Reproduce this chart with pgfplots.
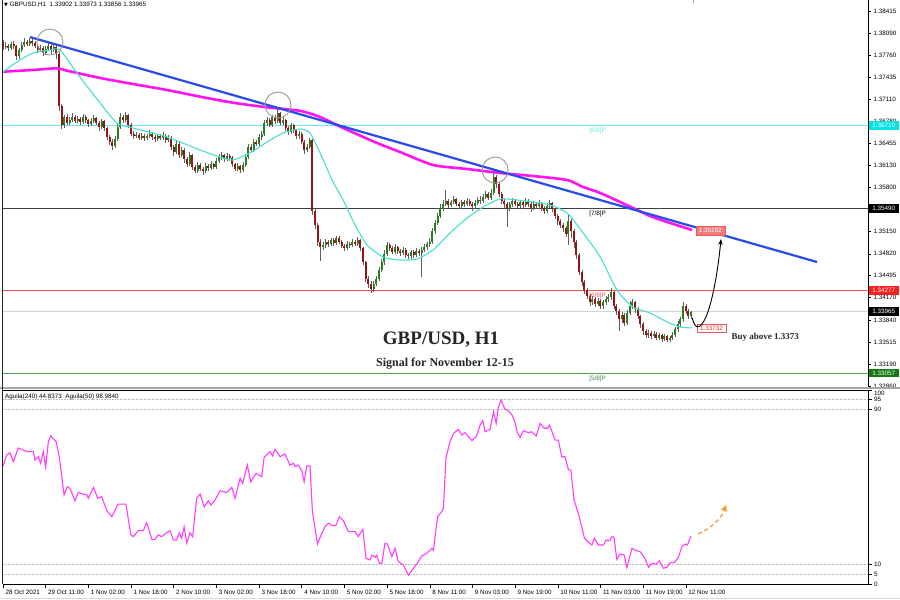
\documentclass[border=0pt]{standalone}
\usepackage{pgfplots}
\pgfplotsset{compat=1.18}
\usepgfplotslibrary{groupplots}
\usepackage{pgfplotstable}
\usepackage{fontspec}
\setmainfont{Liberation Sans}
\newfontfamily\serifb{Liberation Serif}
\newfontfamily\dejavu{DejaVu Sans}
\usetikzlibrary{arrows.meta}
\pgfdeclarelayer{bg}
\pgfsetlayers{bg,main}
\definecolor{upc}{RGB}{40,125,30}
\definecolor{dnc}{RGB}{150,20,20}
\definecolor{wick}{RGB}{95,95,95}
\definecolor{magma}{RGB}{255,20,240}
\definecolor{turq}{RGB}{70,225,205}
\definecolor{tline}{RGB}{40,75,235}
\definecolor{cyl}{RGB}{110,232,232}
\definecolor{cybox}{RGB}{0,228,228}
\definecolor{redl}{RGB}{232,85,85}
\definecolor{redbox}{RGB}{250,30,30}
\definecolor{greenl}{RGB}{80,170,80}
\definecolor{greenbox}{RGB}{20,120,20}
\definecolor{curl}{RGB}{205,212,218}
\definecolor{osc}{RGB}{255,60,255}
\definecolor{orng}{RGB}{245,160,50}
\definecolor{salm}{RGB}{240,125,125}
\newcommand\tk{\fontsize{6.3}{7}\selectfont}
\pgfplotsset{/pgf/number format/assume math mode=true}

\pgfplotstableread{
i o h l c
0 1.3795 1.3799 1.3784 1.3788
1 1.3788 1.3795 1.3785 1.3790
2 1.3790 1.3793 1.3782 1.3786
3 1.3786 1.3796 1.3783 1.3792
4 1.3792 1.3797 1.3785 1.3789
5 1.3789 1.3791 1.3769 1.3774
6 1.3774 1.3787 1.3771 1.3784
7 1.3784 1.3795 1.3781 1.3791
8 1.3791 1.3801 1.3788 1.3796
9 1.3796 1.3799 1.3789 1.3793
10 1.3793 1.3802 1.3790 1.3797
11 1.3797 1.3800 1.3790 1.3794
12 1.3794 1.3797 1.3786 1.3790
13 1.3790 1.3792 1.3779 1.3783
14 1.3783 1.3791 1.3780 1.3787
15 1.3787 1.3789 1.3774 1.3779
16 1.3779 1.3790 1.3776 1.3785
17 1.3785 1.3796 1.3782 1.3790
18 1.3790 1.3793 1.3778 1.3783
19 1.3783 1.3794 1.3780 1.3788
20 1.3788 1.3791 1.3770 1.3778
21 1.3778 1.3780 1.3694 1.3700
22 1.3700 1.3704 1.3666 1.3672
23 1.3672 1.3688 1.3668 1.3684
24 1.3684 1.3689 1.3672 1.3676
25 1.3676 1.3685 1.3673 1.3680
26 1.3680 1.3690 1.3677 1.3685
27 1.3685 1.3688 1.3675 1.3679
28 1.3679 1.3686 1.3676 1.3682
29 1.3682 1.3684 1.3673 1.3677
30 1.3677 1.3689 1.3674 1.3684
31 1.3684 1.3687 1.3676 1.3680
32 1.3680 1.3682 1.3670 1.3674
33 1.3674 1.3683 1.3671 1.3679
34 1.3679 1.3688 1.3676 1.3683
35 1.3683 1.3685 1.3672 1.3676
36 1.3676 1.3678 1.3663 1.3670
37 1.3670 1.3682 1.3667 1.3678
38 1.3678 1.3680 1.3664 1.3668
39 1.3668 1.3670 1.3650 1.3655
40 1.3655 1.3658 1.3643 1.3648
41 1.3648 1.3652 1.3636 1.3642
42 1.3642 1.3656 1.3639 1.3652
43 1.3652 1.3674 1.3649 1.3670
44 1.3670 1.3690 1.3667 1.3684
45 1.3684 1.3688 1.3676 1.3680
46 1.3680 1.3692 1.3677 1.3687
47 1.3687 1.3689 1.3668 1.3672
48 1.3672 1.3675 1.3656 1.3660
49 1.3660 1.3663 1.3652 1.3656
50 1.3656 1.3662 1.3653 1.3658
51 1.3658 1.3661 1.3650 1.3654
52 1.3654 1.3661 1.3651 1.3657
53 1.3657 1.3660 1.3649 1.3653
54 1.3653 1.3660 1.3650 1.3656
55 1.3656 1.3665 1.3653 1.3660
56 1.3660 1.3662 1.3651 1.3655
57 1.3655 1.3658 1.3648 1.3652
58 1.3652 1.3660 1.3649 1.3656
59 1.3656 1.3659 1.3650 1.3653
60 1.3653 1.3662 1.3650 1.3657
61 1.3657 1.3659 1.3646 1.3650
62 1.3650 1.3658 1.3647 1.3654
63 1.3654 1.3656 1.3636 1.3640
64 1.3640 1.3643 1.3626 1.3632
65 1.3632 1.3650 1.3629 1.3645
66 1.3645 1.3647 1.3624 1.3628
67 1.3628 1.3640 1.3625 1.3636
68 1.3636 1.3638 1.3617 1.3622
69 1.3622 1.3625 1.3610 1.3615
70 1.3615 1.3632 1.3612 1.3628
71 1.3628 1.3630 1.3606 1.3610
72 1.3610 1.3613 1.3601 1.3605
73 1.3605 1.3618 1.3602 1.3614
74 1.3614 1.3616 1.3604 1.3608
75 1.3608 1.3611 1.3599 1.3604
76 1.3604 1.3616 1.3601 1.3612
77 1.3612 1.3615 1.3605 1.3609
78 1.3609 1.3619 1.3606 1.3615
79 1.3615 1.3617 1.3607 1.3610
80 1.3610 1.3624 1.3607 1.3620
81 1.3620 1.3629 1.3617 1.3625
82 1.3625 1.3632 1.3621 1.3628
83 1.3628 1.3630 1.3618 1.3622
84 1.3622 1.3631 1.3619 1.3627
85 1.3627 1.3630 1.3620 1.3624
86 1.3624 1.3626 1.3611 1.3615
87 1.3615 1.3617 1.3604 1.3608
88 1.3608 1.3616 1.3605 1.3612
89 1.3612 1.3614 1.3602 1.3606
90 1.3606 1.3618 1.3603 1.3614
91 1.3614 1.3629 1.3611 1.3625
92 1.3625 1.3644 1.3622 1.3640
93 1.3640 1.3645 1.3632 1.3636
94 1.3636 1.3652 1.3633 1.3648
95 1.3648 1.3651 1.3641 1.3645
96 1.3645 1.3659 1.3642 1.3655
97 1.3655 1.3664 1.3651 1.3660
98 1.3660 1.3680 1.3657 1.3675
99 1.3675 1.3684 1.3671 1.3680
100 1.3680 1.3683 1.3669 1.3673
101 1.3673 1.3688 1.3670 1.3684
102 1.3684 1.3687 1.3674 1.3678
103 1.3678 1.3697 1.3675 1.3690
104 1.3690 1.3692 1.3672 1.3676
105 1.3676 1.3684 1.3672 1.3680
106 1.3680 1.3682 1.3664 1.3668
107 1.3668 1.3671 1.3658 1.3662
108 1.3662 1.3676 1.3659 1.3672
109 1.3672 1.3674 1.3661 1.3665
110 1.3665 1.3667 1.3652 1.3656
111 1.3656 1.3664 1.3652 1.3660
112 1.3660 1.3662 1.3644 1.3648
113 1.3648 1.3650 1.3630 1.3635
114 1.3635 1.3645 1.3632 1.3640
115 1.3640 1.3654 1.3637 1.3650
116 1.3650 1.3652 1.3540 1.3545
117 1.3545 1.3549 1.3518 1.3525
118 1.3525 1.3528 1.3494 1.3500
119 1.3500 1.3504 1.3472 1.3492
120 1.3492 1.3499 1.3488 1.3495
121 1.3495 1.3504 1.3491 1.3500
122 1.3500 1.3503 1.3492 1.3496
123 1.3496 1.3506 1.3493 1.3502
124 1.3502 1.3505 1.3494 1.3498
125 1.3498 1.3509 1.3495 1.3505
126 1.3505 1.3508 1.3496 1.3500
127 1.3500 1.3502 1.3490 1.3494
128 1.3494 1.3497 1.3486 1.3490
129 1.3490 1.3501 1.3487 1.3497
130 1.3497 1.3500 1.3491 1.3495
131 1.3495 1.3504 1.3492 1.3500
132 1.3500 1.3503 1.3493 1.3497
133 1.3497 1.3507 1.3494 1.3502
134 1.3502 1.3504 1.3486 1.3490
135 1.3490 1.3492 1.3465 1.3470
136 1.3470 1.3472 1.3440 1.3445
137 1.3445 1.3449 1.3432 1.3438
138 1.3438 1.3441 1.3424 1.3430
139 1.3430 1.3442 1.3426 1.3438
140 1.3438 1.3449 1.3434 1.3445
141 1.3445 1.3462 1.3442 1.3458
142 1.3458 1.3475 1.3455 1.3470
143 1.3470 1.3487 1.3466 1.3482
144 1.3482 1.3500 1.3479 1.3495
145 1.3495 1.3498 1.3486 1.3490
146 1.3490 1.3493 1.3481 1.3485
147 1.3485 1.3496 1.3482 1.3492
148 1.3492 1.3494 1.3482 1.3486
149 1.3486 1.3489 1.3479 1.3483
150 1.3483 1.3492 1.3480 1.3488
151 1.3488 1.3490 1.3476 1.3480
152 1.3480 1.3483 1.3474 1.3478
153 1.3478 1.3488 1.3475 1.3484
154 1.3484 1.3487 1.3476 1.3480
155 1.3480 1.3490 1.3477 1.3486
156 1.3486 1.3489 1.3479 1.3483
157 1.3483 1.3492 1.3448 1.3488
158 1.3488 1.3496 1.3484 1.3492
159 1.3492 1.3500 1.3488 1.3496
160 1.3496 1.3505 1.3492 1.3500
161 1.3500 1.3520 1.3497 1.3515
162 1.3515 1.3532 1.3511 1.3528
163 1.3528 1.3543 1.3524 1.3538
164 1.3538 1.3556 1.3535 1.3550
165 1.3550 1.3561 1.3546 1.3556
166 1.3556 1.3576 1.3552 1.3560
167 1.3560 1.3563 1.3550 1.3554
168 1.3554 1.3562 1.3551 1.3558
169 1.3558 1.3567 1.3555 1.3563
170 1.3563 1.3565 1.3552 1.3556
171 1.3556 1.3559 1.3548 1.3552
172 1.3552 1.3562 1.3549 1.3558
173 1.3558 1.3561 1.3551 1.3555
174 1.3555 1.3564 1.3552 1.3560
175 1.3560 1.3563 1.3552 1.3556
176 1.3556 1.3559 1.3545 1.3552
177 1.3552 1.3561 1.3549 1.3557
178 1.3557 1.3566 1.3554 1.3562
179 1.3562 1.3567 1.3556 1.3560
180 1.3560 1.3571 1.3557 1.3566
181 1.3566 1.3575 1.3563 1.3570
182 1.3570 1.3573 1.3561 1.3565
183 1.3565 1.3578 1.3562 1.3572
184 1.3572 1.3606 1.3569 1.3595
185 1.3595 1.3599 1.3580 1.3585
186 1.3585 1.3588 1.3566 1.3570
187 1.3570 1.3573 1.3555 1.3560
188 1.3560 1.3563 1.3550 1.3555
189 1.3555 1.3558 1.3522 1.3548
190 1.3548 1.3559 1.3545 1.3555
191 1.3555 1.3565 1.3551 1.3560
192 1.3560 1.3563 1.3552 1.3556
193 1.3556 1.3559 1.3548 1.3552
194 1.3552 1.3562 1.3549 1.3558
195 1.3558 1.3561 1.3550 1.3554
196 1.3554 1.3564 1.3551 1.3560
197 1.3560 1.3563 1.3551 1.3555
198 1.3555 1.3558 1.3544 1.3550
199 1.3550 1.3560 1.3547 1.3556
200 1.3556 1.3559 1.3548 1.3552
201 1.3552 1.3561 1.3549 1.3557
202 1.3557 1.3559 1.3546 1.3550
203 1.3550 1.3553 1.3541 1.3546
204 1.3546 1.3557 1.3543 1.3553
205 1.3553 1.3562 1.3550 1.3557
206 1.3557 1.3559 1.3544 1.3548
207 1.3548 1.3550 1.3533 1.3538
208 1.3538 1.3541 1.3525 1.3530
209 1.3530 1.3533 1.3520 1.3525
210 1.3525 1.3528 1.3514 1.3520
211 1.3520 1.3523 1.3507 1.3512
212 1.3512 1.3540 1.3495 1.3530
213 1.3530 1.3533 1.3505 1.3515
214 1.3515 1.3518 1.3490 1.3500
215 1.3500 1.3503 1.3475 1.3480
216 1.3480 1.3483 1.3450 1.3455
217 1.3455 1.3458 1.3434 1.3440
218 1.3440 1.3443 1.3422 1.3428
219 1.3428 1.3431 1.3415 1.3420
220 1.3420 1.3423 1.3405 1.3410
221 1.3410 1.3419 1.3406 1.3415
222 1.3415 1.3418 1.3403 1.3408
223 1.3408 1.3416 1.3404 1.3412
224 1.3412 1.3415 1.3400 1.3405
225 1.3405 1.3414 1.3401 1.3410
226 1.3410 1.3419 1.3406 1.3415
227 1.3415 1.3422 1.3410 1.3418
228 1.3418 1.3431 1.3414 1.3425
229 1.3425 1.3427 1.3400 1.3405
230 1.3405 1.3408 1.3392 1.3398
231 1.3398 1.3400 1.3368 1.3385
232 1.3385 1.3396 1.3380 1.3392
233 1.3392 1.3394 1.3375 1.3380
234 1.3380 1.3399 1.3376 1.3395
235 1.3395 1.3412 1.3391 1.3405
236 1.3405 1.3415 1.3400 1.3410
237 1.3410 1.3412 1.3395 1.3400
238 1.3400 1.3403 1.3385 1.3390
239 1.3390 1.3392 1.3372 1.3378
240 1.3378 1.3381 1.3362 1.3368
241 1.3368 1.3371 1.3357 1.3362
242 1.3362 1.3369 1.3358 1.3365
243 1.3365 1.3368 1.3356 1.3360
244 1.3360 1.3367 1.3357 1.3364
245 1.3364 1.3366 1.3354 1.3358
246 1.3358 1.3365 1.3355 1.3362
247 1.3362 1.3364 1.3352 1.3356
248 1.3356 1.3363 1.3353 1.3360
249 1.3360 1.3362 1.3351 1.3355
250 1.3355 1.3361 1.3352 1.3358
251 1.3358 1.3366 1.3355 1.3362
252 1.3362 1.3374 1.3359 1.3370
253 1.3370 1.3382 1.3366 1.3378
254 1.3378 1.3389 1.3374 1.3385
255 1.3385 1.3411 1.3381 1.3405
256 1.3405 1.3408 1.3393 1.3398
257 1.3398 1.3401 1.3385 1.3390
258 1.33902 1.33973 1.33856 1.33965
}\candles

\pgfplotstableread{
i v
0 60.8
1.4 66.5
2.6 67.7
3.9 63.0
5.7 70.1
7.6 69.1
8.9 68.2
11.4 68.2
12 63.9
13.2 65.6
14.1 62.2
15.1 68.2
16 60.2
17 73.4
17.9 76.3
19.9 73.4
21.1 65.6
22.9 45.9
24.1 50.2
25.1 49.3
27 42.9
28.2 47.1
31.4 45.9
32 44.2
33.9 49.8
35.5 44.2
37 45.0
38.9 37.8
40.8 34.7
43.2 41.2
46.1 41.2
47.9 25.3
48.9 24.4
50.7 27.5
52.6 27.5
53.9 31.6
55.8 23.0
57 23.0
58.2 25.3
59.5 24.4
60.7 25.8
62.6 27.5
63.9 22.7
65.1 22.7
66.1 26.4
67 23.6
67.9 29.5
68.9 21.0
70.1 26.4
71.1 24.4
72.6 44.2
73.9 46.4
75.4 39.8
77 42.9
78 40.7
79.5 43.3
81.4 48.1
83.9 47.1
85.8 49.8
87 44.2
88.9 54.5
89.9 51.9
91.6 61.3
92.9 52.7
94.9 57.1
97 55.3
97.9 65.3
100.1 68.2
101.1 66.0
102 69.4
103.9 65.6
105.7 67.0
107.6 61.3
108.9 62.2
109.5 60.5
110.7 61.3
112 58.4
112.9 52.7
113.9 60.8
115.1 60.8
116 37.3
117.9 20.6
119.1 24.7
120.7 29.5
122 31.3
123.9 29.9
124.9 30.4
126.1 34.7
127.6 32.6
129.5 27.0
132 27.0
133.2 24.4
134.9 28.2
136.1 13.2
137.6 12.4
138.3 14.9
139.5 13.8
140.1 14.9
141.1 10.7
142 10.7
143.2 21.0
144.1 20.6
145.8 14.1
147 18.4
148.2 11.5
150.1 9.8
152 4.6
153.9 8.1
155.7 11.5
157 14.4
158.9 15.8
160.8 18.4
161.4 17.5
162.9 34.7
164.5 37.3
165.1 39.0
166.1 65.3
167.6 73.4
168.9 77.7
170.7 79.7
172 76.8
173.2 78.0
174.5 75.9
175.8 73.9
177.4 75.9
178.9 82.0
179.9 84.2
180.7 78.5
182.6 79.7
183.9 88.8
184.9 82.8
185.7 91.1
186.7 94.8
188.2 90.1
189.5 89.3
190.8 87.1
191.6 84.9
192.9 77.7
193.9 75.6
195.1 79.0
197 78.0
198.3 78.5
199.9 76.3
201.4 82.8
202.9 80.3
204.1 80.3
204.9 82.0
207 74.2
208.2 74.2
209.5 65.6
210.7 65.6
212 58.8
212.9 58.8
214.1 43.3
215.7 36.4
218 23.6
219.9 21.0
220.8 20.1
221.7 23.6
223.2 20.1
225.1 20.1
226.1 22.7
227.4 22.3
228.3 24.4
229.1 24.1
230.1 12.7
231.4 15.5
232.9 14.9
233.9 8.4
235.8 18.4
237 17.5
238.9 16.6
240.7 13.2
242 8.6
243.3 10.7
244.9 10.2
246.1 11.9
247.6 8.1
248.9 8.6
250.1 11.0
251.6 11.0
253.2 13.6
254.5 19.2
255.7 20.6
256.6 20.1
257.9 24.7
}\osci

\begin{document}
\begin{tikzpicture}[x=1pt,y=1pt]
\begin{groupplot}[
  group style={group size=1 by 2, vertical sep=3pt},
  scale only axis, width=865pt,
  xmin=0, xmax=324.3,
  axis line style={-, line width=0.8pt},
  tick align=outside,
  tick style={black, line width=0.5pt},
  scaled y ticks=false,
  clip=false,
]
% ---------------- upper price panel ----------------
\nextgroupplot[
  height=387pt,
  ymin=1.328484, ymax=1.38576,
  axis x line=none, axis y line*=right,
  ytick={1.38415,1.38090,1.37760,1.37435,1.37110,1.36780,1.36455,1.36130,1.35800,1.35150,1.34820,1.34495,1.34170,1.33840,1.33515,1.33190,1.32860},
  yticklabels={1.38415,1.38090,1.37760,1.37435,1.37110,1.36780,1.36455,1.36130,1.35800,1.35150,1.34820,1.34495,1.34170,1.33840,1.33515,1.33190,1.32860},
  major tick length=3pt,
  yticklabel style={font=\tk, xshift=-1pt},
]
\coordinate (UL) at (rel axis cs:0,0);
% horizontal levels
\addplot[cyl, line width=0.8pt] coordinates {(0,1.36719) (324.3,1.36719)};
\addplot[black!75, line width=0.7pt] coordinates {(0,1.35490) (324.3,1.35490)};
\addplot[redl, line width=0.8pt] coordinates {(0,1.34277) (324.3,1.34277)};
\addplot[curl, line width=1.8pt] coordinates {(0,1.33965) (324.3,1.33965)};
\addplot[greenl, line width=0.8pt] coordinates {(0,1.33057) (324.3,1.33057)};

% candles: wicks
\addplot[draw=none, no markers, forget plot,
  error bars/.cd, y dir=plus, y explicit, error mark=none,
  error bar style={draw=wick, line width=0.6pt}]
  table[x=i, y=l, y error plus expr=\thisrow{h}-\thisrow{l}] {\candles};
% up bodies
\addplot[draw=none, no markers, forget plot,
  restrict expr to domain={(\thisrow{c}-\thisrow{o})*10000}{0:1000},
  error bars/.cd, y dir=plus, y explicit, error mark=none,
  error bar style={draw=upc, line width=2pt}]
  table[x=i, y=o, y error plus expr=\thisrow{c}-\thisrow{o}] {\candles};
% down bodies
\addplot[draw=none, no markers, forget plot,
  restrict expr to domain={(\thisrow{o}-\thisrow{c})*10000}{0.001:1000},
  error bars/.cd, y dir=plus, y explicit, error mark=none,
  error bar style={draw=dnc, line width=2pt}]
  table[x=i, y=c, y error plus expr=\thisrow{o}-\thisrow{c}] {\candles};

% moving averages
\addplot[magma, line width=2.6pt, smooth, tension=0.4] coordinates {
(0,1.37515) (11.2,1.37540) (20.2,1.37565) (24,1.37530) (36.4,1.37422)
(48.7,1.37333) (61.5,1.37244) (73.9,1.37145) (86.2,1.37056) (99,1.36988)
(111.4,1.36935) (118.9,1.36844) (127.5,1.36682) (140.2,1.36460) (148.9,1.36326)
(161.2,1.36134) (174,1.36075) (186.4,1.36016) (198.7,1.35971) (211.5,1.35912)
(217.5,1.35808) (223.9,1.35720) (236.2,1.35498) (242.6,1.35379) (249,1.35290)
(258.4,1.35172)};
\addplot[turq, line width=1.1pt, smooth, tension=0.4] coordinates {
(0,1.37510) (5.2,1.37658) (11.2,1.37792) (17.6,1.37836) (21.4,1.37836)
(27.7,1.37496) (36.4,1.37052) (42.7,1.36756) (48.7,1.36682) (61.5,1.36548)
(73.9,1.36356) (81.4,1.36252) (86.2,1.36208) (92.6,1.36312) (99,1.36474)
(105,1.36608) (111.4,1.36667) (115.1,1.36608) (118.9,1.36312) (123.4,1.35912)
(127.5,1.35616) (132,1.35246) (136.5,1.34950) (142.5,1.34772) (148.9,1.34728)
(155.2,1.34743) (161.2,1.34876) (167.6,1.35128) (174,1.35350) (180,1.35512)
(186.4,1.35631) (192.7,1.35616) (198.7,1.35586) (205.1,1.35542) (211.5,1.35424)
(217.5,1.35128) (223.9,1.34772) (230.2,1.34284) (236.2,1.34032) (242.6,1.33944)
(249,1.33810) (253.9,1.33736) (258.4,1.33722)};
% trend line
\addplot[tline, line width=2.2pt] coordinates {(10.1,1.38028) (305.2,1.34698)};

% circles
\draw[gray!80, line width=0.9pt] (axis cs:17.6,1.37954) circle[radius=13pt];
\draw[gray!80, line width=0.9pt] (axis cs:103.1,1.37022) circle[radius=13pt];
\draw[gray!80, line width=0.9pt] (axis cs:184.5,1.36060) circle[radius=13pt];

% murrey labels
\node[anchor=north west, inner sep=1pt, font=\tk, text=cyl] at (axis cs:219.4,1.36700) {[8/8]P};
\node[anchor=north west, inner sep=1pt, font=\tk, text=black] at (axis cs:219.4,1.35470) {[7/8]P};
\node[anchor=north west, inner sep=1pt, font=\tk, text=redl] at (axis cs:219.4,1.34257) {[6/8]P};
\node[anchor=north west, inner sep=1pt, font=\tk, text=greenl!80!black] at (axis cs:219.4,1.33037) {[5/8]P};

% right price boxes
\node[anchor=west, xshift=0.5pt, fill=cybox, text=white, font=\tk, inner sep=1pt, minimum width=30pt, minimum height=8.5pt] at (axis cs:324.3,1.36719) {1.36719};
\node[anchor=west, xshift=0.5pt, fill=black, text=white, font=\tk, inner sep=1pt, minimum width=30pt, minimum height=8.5pt] at (axis cs:324.3,1.35490) {1.35490};
\node[anchor=west, xshift=0.5pt, fill=redbox, text=white, font=\tk, inner sep=1pt, minimum width=30pt, minimum height=8.5pt] at (axis cs:324.3,1.34277) {1.34277};
\node[anchor=west, xshift=0.5pt, fill=black, text=white, font=\tk, inner sep=1pt, minimum width=30pt, minimum height=8.5pt] at (axis cs:324.3,1.33965) {1.33965};
\node[anchor=west, xshift=0.5pt, fill=greenbox, text=white, font=\tk, inner sep=1pt, minimum width=30pt, minimum height=8.5pt] at (axis cs:324.3,1.33057) {1.33057};

% MA end labels
\node[fill=salm, draw=redl, text=white, font=\tk, inner sep=1pt, minimum width=29pt, minimum height=8.5pt] at (axis cs:265.2,1.35160) {1.35182};
\node[fill=white, draw=redl, text=redbox, font=\tk, inner sep=1pt, minimum width=29pt, minimum height=8.5pt] at (axis cs:265.6,1.33722) {1.33732};

% black curved arrow
\draw[black, line width=0.9pt, -{Stealth[length=6pt,width=4.5pt]}]
  (axis cs:258.4,1.33870) .. controls (axis cs:259.0,1.33770) and (axis cs:259.8,1.33730) .. (axis cs:260.8,1.33740)
  .. controls (axis cs:264.5,1.33800) and (axis cs:267.6,1.34400) .. (axis cs:269.2,1.35040);

% ---------------- lower oscillator panel ----------------
\nextgroupplot[
  height=194pt,
  ymin=0, ymax=100,
  axis x line*=bottom, axis y line*=right,
  xtick={0,16,32,48,64,80,96,112,128,144,160,176,192,208,224,240,256},
  xticklabels={28 Oct 2021,29 Oct 11:00,1 Nov 02:00,1 Nov 18:00,2 Nov 10:00,3 Nov 02:00,3 Nov 18:00,4 Nov 10:00,5 Nov 02:00,5 Nov 18:00,8 Nov 11:00,9 Nov 03:00,9 Nov 19:00,10 Nov 11:00,11 Nov 03:00,11 Nov 19:00,12 Nov 11:00},
  xticklabel style={font=\tk, anchor=north west, xshift=-1pt, yshift=1pt},
  ytick={0,5,10,90,95},
  yticklabels={0,5,10,90,95},
  extra y ticks={100},
  extra y tick labels={100},
  extra y tick style={yticklabel style={yshift=-3.5pt}},
  yticklabel style={font=\tk, xshift=-1pt},
  major tick length=3.5pt,
]
\addplot[gray!55, densely dotted, line width=0.6pt] coordinates {(0,95) (324.3,95)};
\addplot[gray!55, densely dotted, line width=0.6pt] coordinates {(0,90) (324.3,90)};
\addplot[gray!55, densely dotted, line width=0.6pt] coordinates {(0,10) (324.3,10)};
\addplot[gray!55, densely dotted, line width=0.6pt] coordinates {(0,5) (324.3,5)};
\addplot[osc, line width=1.1pt] table[x=i, y=v] {\osci};
\draw[orng, line width=1.3pt, dash pattern=on 4pt off 3pt, -{Triangle[length=6pt,width=6pt]}]
  (axis cs:260.6,25.8) .. controls (axis cs:265,28.5) and (axis cs:269,33) .. (axis cs:271.1,40.7);
\end{groupplot}

\begin{scope}[shift={(UL)}, xshift=-3pt, yshift=-213pt]
\begin{pgfonlayer}{bg}
\fill[white] (0,0) rectangle (900,600);
\end{pgfonlayer}
% frame lines and separators
\draw[gray!70, line width=1.6pt] (0,212) -- (900,212);
\draw[black, line width=0.8pt] (3,210) -- (868,210);
\draw[black!85, line width=1pt] (2,16) -- (2,600);
\draw[gray!30, line width=1pt] (0,1.5) -- (900,1.5);
\draw[gray!70, line width=0.6pt] (693,600) -- (693,597);
% texts
\node[anchor=west, inner sep=0pt, font=\tk] at (4,595.5) {{\dejavu\fontsize{5}{6}\selectfont ▼}\ GBPUSD,H1\ \ 1.33902 1.33973 1.33856 1.33965};
\node[anchor=west, inner sep=0pt, font=\tk] at (5,203.5) {Aguila(240) 44.8373\ \ Aguila(50) 98.9840};
\node[font=\serifb\bfseries\fontsize{19}{22}\selectfont, text=black!85] at (441,260) {GBP/USD, H1};
\node[font=\serifb\bfseries\fontsize{12}{14}\selectfont, text=black!85] at (445,236) {Signal for November 12-15};
\node[anchor=west, font=\serifb\bfseries\fontsize{9}{11}\selectfont, text=black!85] at (728,263) {Buy above 1.3373};
\pgfresetboundingbox
\useasboundingbox (0,0) rectangle (900,600);
\end{scope}
\end{tikzpicture}
\end{document}
